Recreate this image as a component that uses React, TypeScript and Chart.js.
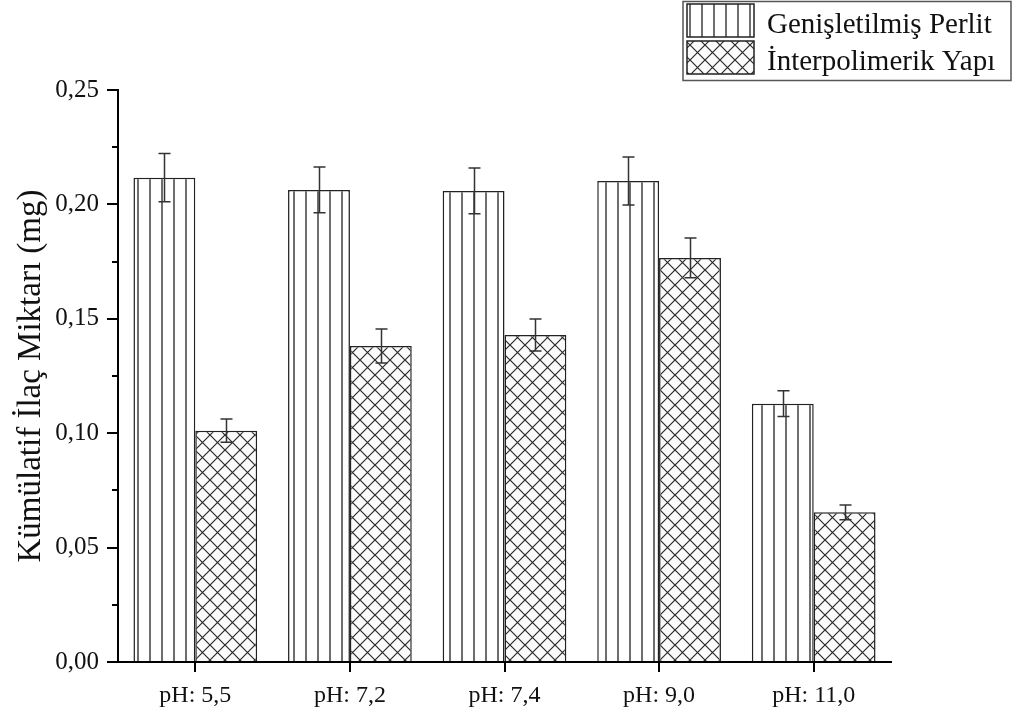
import React, { useEffect, useRef } from "react";
import { Chart, registerables } from "chart.js";

Chart.register(...registerables);

// Release conditions on the category axis
const categories = ["pH: 5,5", "pH: 7,2", "pH: 7,4", "pH: 9,0", "pH: 11,0"];

// Cumulative released drug amount (mg) and standard deviations
const perlitValues = [0.2117, 0.2063, 0.2059, 0.2102, 0.1129];
const perlitErrors = [0.0105, 0.0100, 0.0100, 0.0105, 0.0056];
const interValues = [0.1011, 0.1381, 0.1429, 0.1766, 0.0654];
const interErrors = [0.0051, 0.0074, 0.0070, 0.0087, 0.0032];

const seriesLabels = ["Genişletilmiş Perlit", "İnterpolimerik Yapı"];
const yTicks = [0, 0.05, 0.1, 0.15, 0.2, 0.25];
const yMinorTicks = [0.025, 0.075, 0.125, 0.175, 0.225];

const FONT = '"Liberation Serif", "Times New Roman", serif';

function makeVerticalPattern(ctx: CanvasRenderingContext2D) {
  const c = document.createElement("canvas");
  c.width = 12;
  c.height = 12;
  const p = c.getContext("2d")!;
  p.fillStyle = "#ffffff";
  p.fillRect(0, 0, 12, 12);
  p.strokeStyle = "#4a4a4a";
  p.lineWidth = 1.6;
  p.beginPath();
  p.moveTo(6, 0);
  p.lineTo(6, 12);
  p.stroke();
  return ctx.createPattern(c, "repeat")!;
}

function makeCrossPattern(ctx: CanvasRenderingContext2D) {
  const s = 15;
  const c = document.createElement("canvas");
  c.width = s;
  c.height = s;
  const p = c.getContext("2d")!;
  p.fillStyle = "#fbfbfb";
  p.fillRect(0, 0, s, s);
  p.strokeStyle = "#2a2a2a";
  p.lineWidth = 1.2;
  p.beginPath();
  p.moveTo(-1, -1);
  p.lineTo(s + 1, s + 1);
  p.moveTo(s + 1, -1);
  p.lineTo(-1, s + 1);
  p.stroke();
  return ctx.createPattern(c, "repeat")!;
}

export default function App() {
  const ref = useRef<HTMLCanvasElement>(null);

  useEffect(() => {
    document.body.style.margin = "0";
    const canvas = ref.current!;
    const ctx = canvas.getContext("2d")!;
    const vPat = makeVerticalPattern(ctx);
    const xPat = makeCrossPattern(ctx);
    const errorSets = [perlitErrors, interErrors];

    const extras = {
      id: "extras",
      afterDatasetsDraw(chart: any) {
        const c = chart.ctx;
        const y = chart.scales.y;
        c.save();
        c.strokeStyle = "#333333";
        c.lineWidth = 1.5;
        chart.data.datasets.forEach((ds: any, di: number) => {
          const meta = chart.getDatasetMeta(di);
          meta.data.forEach((bar: any, i: number) => {
            const v = ds.data[i];
            const e = errorSets[di][i];
            const yt = y.getPixelForValue(v + e);
            const yb = y.getPixelForValue(v - e);
            const x = Math.round(bar.x) + 0.5;
            c.beginPath();
            c.moveTo(x, yt);
            c.lineTo(x, yb);
            c.moveTo(x - 6, yt);
            c.lineTo(x + 6, yt);
            c.moveTo(x - 6, yb);
            c.lineTo(x + 6, yb);
            c.stroke();
          });
        });
        c.restore();
      },
      afterDraw(chart: any) {
        const c = chart.ctx;
        const y = chart.scales.y;
        const left = chart.chartArea.left;
        c.save();
        // minor ticks on the value axis
        c.strokeStyle = "#000000";
        c.lineWidth = 2;
        yMinorTicks.forEach((v) => {
          const py = Math.round(y.getPixelForValue(v));
          c.beginPath();
          c.moveTo(left - 6, py);
          c.lineTo(left, py);
          c.stroke();
        });
        // legend box
        c.strokeStyle = "#555555";
        c.lineWidth = 1.5;
        c.strokeRect(683, 1.5, 328, 79);
        const pats = [vPat, xPat];
        const rows = [4, 41];
        c.font = `29px ${FONT}`;
        c.textBaseline = "alphabetic";
        c.textAlign = "left";
        seriesLabels.forEach((label, i) => {
          c.fillStyle = pats[i];
          c.fillRect(687, rows[i], 67, 33);
          c.strokeStyle = "#222222";
          c.lineWidth = 1.5;
          c.strokeRect(687, rows[i], 67, 33);
          c.fillStyle = "#111111";
          c.fillText(label, 767, rows[i] + 29);
        });
        c.restore();
      },
    };

    const chart = new Chart(canvas, {
      type: "bar",
      data: {
        labels: categories,
        datasets: [
          {
            label: seriesLabels[0],
            data: perlitValues,
            backgroundColor: vPat,
            borderColor: "#222222",
            borderWidth: 1.5,
          },
          {
            label: seriesLabels[1],
            data: interValues,
            backgroundColor: xPat,
            borderColor: "#222222",
            borderWidth: 1.5,
          },
        ],
      },
      options: {
        responsive: false,
        animation: false,
        layout: { padding: { top: 90, right: 123, left: 0, bottom: 0 } },
        datasets: { bar: { categoryPercentage: 0.8, barPercentage: 1.0 } },
        plugins: {
          legend: { display: false },
          tooltip: { enabled: false },
        },
        scales: {
          x: {
            offset: true,
            grid: {
              display: true,
              offset: false,
              drawOnChartArea: false,
              drawTicks: true,
              tickLength: 10,
              color: "#000000",
              lineWidth: 2,
            },
            border: { display: true, color: "#000000", width: 2 },
            ticks: {
              font: { family: FONT, size: 24 },
              color: "#111111",
              padding: 9,
              maxRotation: 0,
            },
            afterFit(scale: any) {
              scale.height = 51;
            },
          },
          y: {
            min: 0,
            max: 0.25,
            afterBuildTicks(scale: any) {
              scale.ticks = yTicks.map((v) => ({ value: v }));
            },
            grid: {
              display: true,
              drawOnChartArea: false,
              drawTicks: true,
              tickLength: 11,
              color: "#000000",
              lineWidth: 2,
            },
            border: { display: true, color: "#000000", width: 2 },
            ticks: {
              font: { family: FONT, size: 25 },
              color: "#111111",
              padding: 8,
              callback: (v: any) => Number(v).toFixed(2).replace(".", ","),
            },
            title: {
              display: true,
              text: "Kümülatif İlaç Miktarı (mg)",
              font: { family: FONT, size: 33 },
              color: "#111111",
              padding: { top: 12, bottom: 0 },
            },
            afterFit(scale: any) {
              scale.width = 118;
            },
          },
        },
      },
      plugins: [extras],
    });

    return () => chart.destroy();
  }, []);

  return (
    <div style={{ width: 1014, height: 713, position: "relative", background: "#ffffff" }}>
      <canvas ref={ref} width={1014} height={713} style={{ display: "block" }} />
    </div>
  );
}
